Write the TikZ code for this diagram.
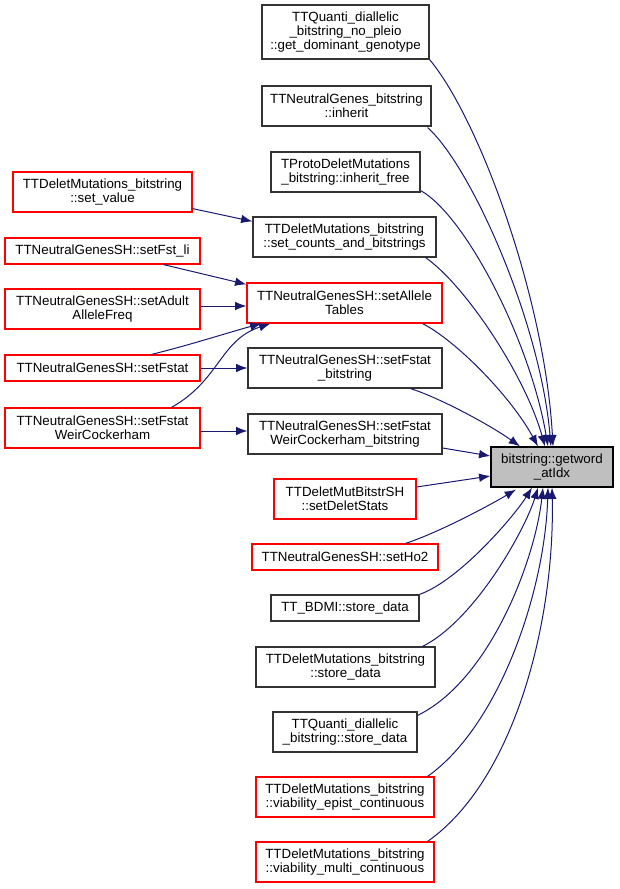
\documentclass[tikz,border=0pt]{standalone}
\usepackage{fontspec}
\setmainfont{Liberation Sans}
\usetikzlibrary{arrows.meta,calc}
\definecolor{edgeblue}{HTML}{191970}
\definecolor{boxgrey}{HTML}{333333}
\definecolor{tgtfill}{HTML}{BFBFBF}
\tikzset{
  box/.style={rectangle, draw=boxgrey, line width=0.9pt, inner sep=0pt, align=center,
              font=\fontsize{10}{10.5}\selectfont},
  redbox/.style={box, draw=red},
  edge/.style={draw=edgeblue, line width=0.75pt, -{Latex[length=8.5pt,width=6.5pt]}},
}
\newcommand{\bx}[7]{\node[#6, minimum width={(#4-#2)*0.75pt}, minimum height={(#5-#3)*0.75pt}] (#1) at ({(#2+#4)/2},{(#3+#5)/2}) {#7};}
\begin{document}
\begin{tikzpicture}[x=0.75pt,y=-0.75pt]
\useasboundingbox (0,0) rectangle (619,889);
% target
\bx{t}{491}{447}{613}{487}{box, fill=tgtfill, draw=black}{bitstring::getword\\\_atIdx}
% middle column
\bx{n1}{262}{5}{429}{59}{box}{TTQuanti\_diallelic\\\_bitstring\_no\_pleio\\::get\_dominant\_genotype}
\bx{n2}{262}{86}{431}{126}{box}{TTNeutralGenes\_bitstring\\::inherit}
\bx{n3}{271}{152}{420}{192}{box}{TProtoDeletMutations\\\_bitstring::inherit\_free}
\bx{n4}{253}{217}{436}{257}{box}{TTDeletMutations\_bitstring\\::set\_counts\_and\_bitstrings}
\bx{n5}{247}{283}{442}{323}{redbox}{TTNeutralGenesSH::setAllele\\Tables}
\bx{n6}{248}{348}{442}{388}{box}{TTNeutralGenesSH::setFstat\\\_bitstring}
\bx{n7}{248}{414}{442}{454}{box}{TTNeutralGenesSH::setFstat\\WeirCockerham\_bitstring}
\bx{n8}{274}{479}{416}{519}{redbox}{TTDeletMutBitstrSH\\::setDeletStats}
\bx{n9}{252}{544}{438}{570}{redbox}{TTNeutralGenesSH::setHo2}
\bx{n10}{271}{595}{419}{621}{box}{TT\_BDMI::store\_data}
\bx{n11}{256}{647}{435}{687}{box}{TTDeletMutations\_bitstring\\::store\_data}
\bx{n12}{273}{712}{417}{752}{box}{TTQuanti\_diallelic\\\_bitstring::store\_data}
\bx{n13}{256}{777}{434}{817}{redbox}{TTDeletMutations\_bitstring\\::viability\_epist\_continuous}
\bx{n14}{256}{842}{434}{882}{redbox}{TTDeletMutations\_bitstring\\::viability\_multi\_continuous}
% left column
\bx{a}{13}{172}{192}{212}{redbox}{TTDeletMutations\_bitstring\\::set\_value}
\bx{b}{5}{238}{200}{264}{redbox}{TTNeutralGenesSH::setFst\_li}
\bx{c}{5}{289}{200}{329}{redbox}{TTNeutralGenesSH::setAdult\\AlleleFreq}
\bx{d}{5}{355}{200}{381}{redbox}{TTNeutralGenesSH::setFstat}
\bx{e}{5}{408}{200}{448}{redbox}{TTNeutralGenesSH::setFstat\\WeirCockerham}
% edges into target (top)
\draw[edge] (n1.south east) .. controls (480,120) and (545,300) .. ($(t.north)+(1,0)$);
\draw[edge] ($(n2.south east)+(-4,1)$) .. controls (470,165) and (540,320) .. ($(t.north)+(-1,0)$);
\draw[edge] ($(n3.south east)+(0,-2)$) .. controls (465,215) and (530,340) .. ($(t.north)+(-4,0)$);
\draw[edge] ($(n4.south east)+(-11,0)$) .. controls (465,285) and (525,375) .. ($(t.north)+(-7,0)$);
\draw[edge] ($(n5.south east)+(-20,0)$) .. controls (455,340) and (510,395) .. ($(t.north)+(-14,0)$);
\draw[edge] ($(n6.south east)+(-32,0)$) .. controls (440,398) and (490,425) .. ($(t.north)+(-32,0)$);
% side
\draw[edge] ($(n7.east)+(0,14)$) -- ($(t.west)+(0,-11)$);
\draw[edge] ($(n8.east)+(0,-12)$) -- ($(t.west)+(0,9)$);
% bottom
\draw[edge] ($(n9.north east)+(-33,0)$) .. controls (440,532) and (490,505) .. ($(t.south)+(-36,2)$);
\draw[edge] (n10.north east) .. controls (460,580) and (515,515) .. ($(t.south)+(-20,0)$);
\draw[edge] ($(n11.north east)+(-13,0)$) .. controls (475,620) and (525,530) .. ($(t.south)+(-14,0)$);
\draw[edge] ($(n12.north east)+(0,4)$) .. controls (490,680) and (535,560) .. ($(t.south)+(-9,0)$);
\draw[edge] ($(n13.north east)+(-7,0)$) .. controls (500,725) and (545,590) .. ($(t.south)+(-4,0)$);
\draw[edge] ($(n14.north east)+(-7,0)$) .. controls (515,780) and (555,620) .. (t.south);
% left column edges
\draw[edge] ($(a.south east)+(0,-4)$) -- ($(n4.north west)+(0,5)$);
\draw[edge] ($(b.south east)+(-37,0)$) -- ($(n5.north west)+(0,2)$);
\draw[edge] ($(c.east)+(0,-3)$) -- ($(n5.west)+(0,3)$);
\draw[edge] (d.east) -- (n6.west);
\draw[edge] ($(d.north)+(49,0)$) .. controls (190,345) and (230,332) .. ($(n5.south west)+(15,0)$);
\draw[edge] ($(e.east)+(0,3)$) -- ($(n7.west)+(0,-3)$);
\draw[edge] ($(e.north)+(69,0)$) .. controls (220,380) and (220,340) .. ($(n5.south west)+(24,0)$);
\end{tikzpicture}
\end{document}
